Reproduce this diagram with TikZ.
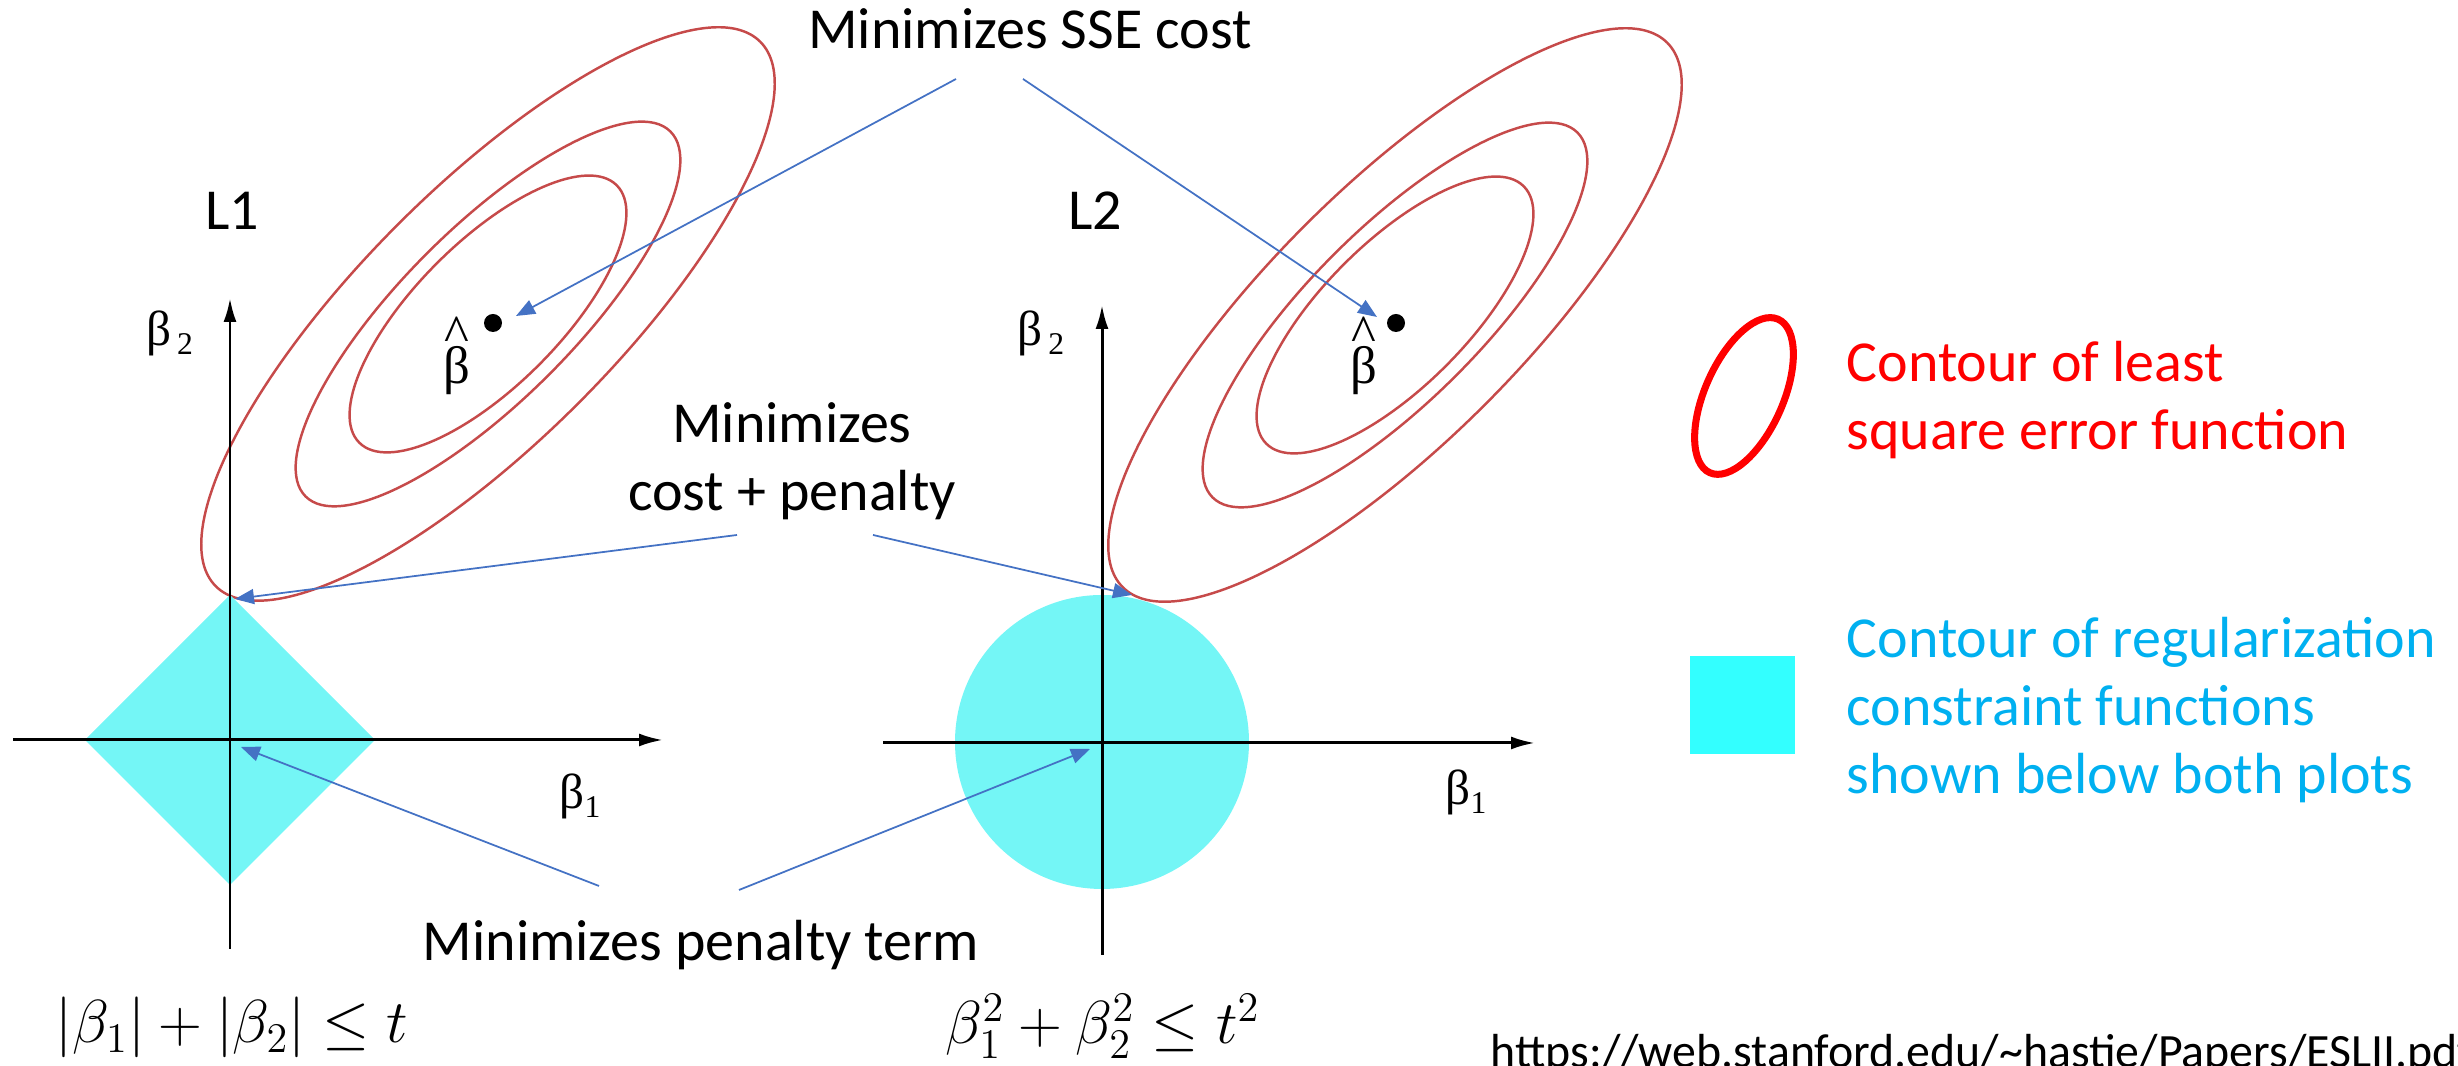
\documentclass[tikz,border=0pt]{standalone}
\usepackage{amsmath}
\usepackage{fontspec}
\setmainfont{Carlito}
\newfontfamily\grkfont{Liberation Serif}
\usetikzlibrary{arrows.meta}
\definecolor{contourred}{RGB}{198,74,74}
\definecolor{regcyan}{RGB}{116,246,246}
\definecolor{keycyan}{RGB}{51,255,255}
\definecolor{keyblue}{RGB}{0,176,240}
\definecolor{pointblue}{RGB}{68,114,196}

\begin{document}
\begin{tikzpicture}[
  contour/.style={draw=contourred,line width=0.7pt},
  axisline/.style={line width=0.85pt,-{Latex[length=0.24cm,width=0.13cm]}},
  pointer/.style={pointblue,line width=0.5pt,-{Triangle[length=0.19cm,width=0.15cm]}},
  note/.style={font=\fontsize{16.5}{19.35}\selectfont,inner sep=0pt},
  betalbl/.style={font=\grkfont\fontsize{14}{16}\selectfont,inner sep=0pt},
  hatlbl/.style={font=\grkfont\fontsize{15}{17}\selectfont,inner sep=0pt,align=center},
  formula/.style={font=\fontsize{18.2}{21}\selectfont,inner sep=0pt,anchor=base west}]
\useasboundingbox (0,0) rectangle (24.58,10.66);

% L1 : lasso
\draw[contour,rotate around={45:(4.88,7.52)}] (4.88,7.52) ellipse (3.85 and 1.27);
\draw[contour,rotate around={45:(4.88,7.52)}] (4.88,7.52) ellipse (2.58 and 0.86);
\draw[contour,rotate around={45:(4.88,7.52)}] (4.88,7.52) ellipse (1.82 and 0.72);
\fill[regcyan] (2.30,4.71)--(3.75,3.26)--(2.30,1.81)--(0.85,3.26)--cycle;
\draw[axisline] (0.13,3.26)--(6.63,3.26);
\draw[axisline] (2.30,1.17)--(2.30,7.68);
\fill (4.93,7.43) circle (0.09);
\node[note,anchor=base] (l1) at (2.32,8.36) {L1};
\node[betalbl] (b2a) at (1.70,7.33) {β\raisebox{-0.4ex}{\fontsize{9}{9}\selectfont\,2}};
\node[betalbl] (b1a) at (5.80,2.70) {β\raisebox{-0.4ex}{\fontsize{9}{9}\selectfont 1}};
\node[hatlbl] (bhat1) at (4.57,7.10) {\textasciicircum\\[-8pt]β};
\node[formula] (cons1) at (0.55,0.23) {$|\beta_1| + |\beta_2| \leq t$};

% L2 : ridge
\draw[contour,rotate around={45:(13.95,7.51)}] (13.95,7.51) ellipse (3.85 and 1.27);
\draw[contour,rotate around={45:(13.95,7.51)}] (13.95,7.51) ellipse (2.58 and 0.86);
\draw[contour,rotate around={45:(13.95,7.51)}] (13.95,7.51) ellipse (1.82 and 0.72);
\fill[regcyan] (11.02,3.24) circle (1.47);
\draw[axisline] (8.83,3.23)--(15.35,3.23);
\draw[axisline] (11.02,1.11)--(11.02,7.61);
\fill (13.96,7.43) circle (0.09);
\node[note,anchor=base] (l2) at (10.95,8.36) {L2};
\node[betalbl] (b2b) at (10.41,7.33) {β\raisebox{-0.4ex}{\fontsize{9}{9}\selectfont\,2}};
\node[betalbl] (b1b) at (14.66,2.74) {β\raisebox{-0.4ex}{\fontsize{9}{9}\selectfont 1}};
\node[hatlbl] (bhat2) at (13.64,7.10) {\textasciicircum\\[-8pt]β};
\node[formula] (cons2) at (9.45,0.22) {$\beta_1^2 + \beta_2^2 \leq t^2$};

% callouts
\node[note,anchor=base] (sse) at (10.30,10.17) {Minimizes SSE cost};
\node[note,anchor=base,align=center] (both) at (7.92,5.55) {Minimizes\\cost + penalty};
\node[note,anchor=base] (pen) at (7.01,1.05) {Minimizes penalty term};
\coordinate (sseL) at (9.56,9.87);  \coordinate (sseR) at (10.23,9.87);
\coordinate (opt1) at (5.16,7.50);  \coordinate (opt2) at (13.77,7.49);
\coordinate (bothL) at (7.37,5.31); \coordinate (bothR) at (8.73,5.31);
\coordinate (hit1) at (2.35,4.67);  \coordinate (hit2) at (11.32,4.71);
\coordinate (penL) at (5.99,1.80);  \coordinate (penR) at (7.39,1.76);
\coordinate (O1) at (2.41,3.19);    \coordinate (O2) at (10.90,3.17);
\draw[pointer] (sseL)--(opt1);
\draw[pointer] (sseR)--(opt2);
\draw[pointer] (bothL)--(hit1);
\draw[pointer] (bothR)--(hit2);
\draw[pointer] (penL)--(O1);
\draw[pointer] (penR)--(O2);

% legend
\draw[red,line width=2pt,rotate around={-24:(17.44,6.70)}] (17.44,6.70) ellipse (0.39 and 0.84);
\fill[keycyan] (16.90,3.12) rectangle (17.95,4.10);
\node[note,anchor=base west,align=left,text=red] (keyls) at (18.46,6.16) {Contour of least\\square error function};
\node[note,anchor=base west,align=left,text=keyblue] (keyreg) at (18.46,2.72) {Contour of regularization\\constraint functions\\shown below both plots};
\node[inner sep=0pt,anchor=base west,font=\fontsize{13.6}{16}\selectfont] (src) at (14.90,-0.02) {https://web.stanford.edu/\textasciitilde hastie/Papers/ESLII.pdf};
\end{tikzpicture}
\end{document}
